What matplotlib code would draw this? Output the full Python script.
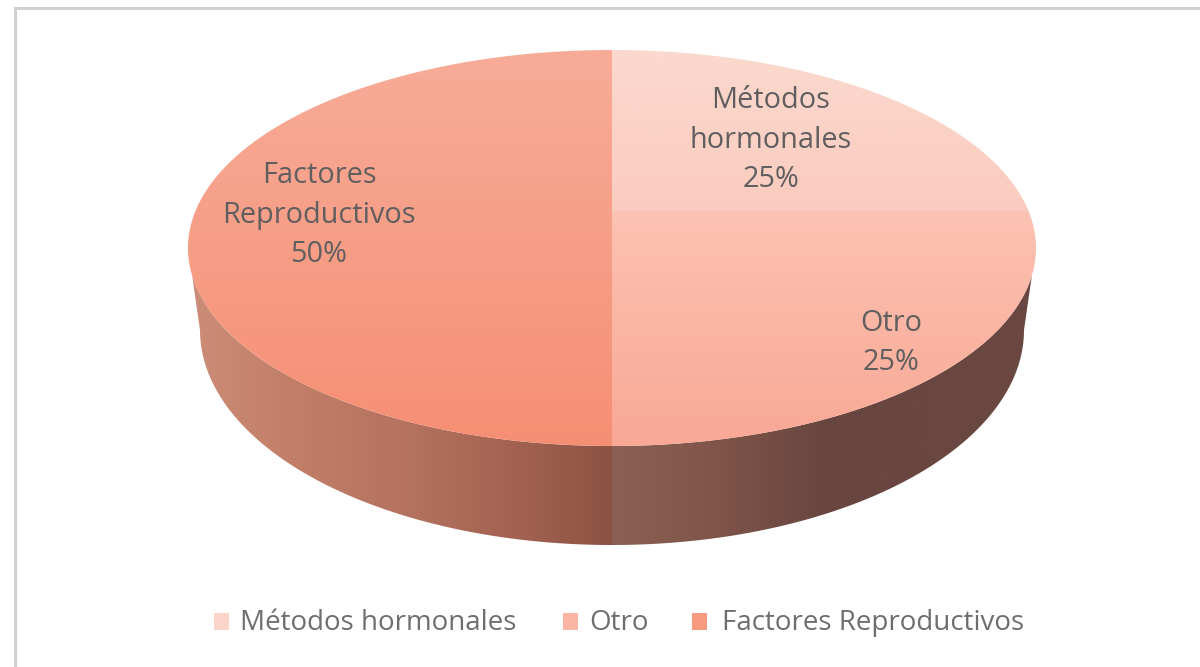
import numpy as np
import matplotlib
matplotlib.use("Agg")
import matplotlib.pyplot as plt
from matplotlib.colors import LinearSegmentedColormap
from matplotlib.patches import Polygon, Rectangle

categories = ["Métodos hormonales", "Otro", "Factores Reproductivos"]
values = [25, 25, 50]
legend_colors = ["#fcd5ca", "#fab5a4", "#f69a80"]

# vertical gradients of the top faces
top_grads = [("#fbd9ce", "#fbcbbf"), ("#fcc2b3", "#f9a895"), ("#f8ac98", "#f58f74")]
label_pos = [(771, 140), (891, 343), (319, 215)]
legend_x = [214, 563, 692]
legend_text_x = [240, 589, 722]

CX, CY, RX, RY = 612, 248, 424, 198
HUB_Y = 211  # where the slices meet, perspective moves it up
BX, BY, BRX, BRY = 612, 330, 412, 215

plt.rcParams["font.family"] = ["Open Sans", "DejaVu Sans"]

fig = plt.figure(figsize=(12, 6.67), dpi=100)
ax = fig.add_axes([0, 0, 1, 1])
ax.set_xlim(0, 1200)
ax.set_ylim(667, 0)
ax.axis("off")

ax.plot([14.5, 14.5, 1200], [667, 7.5, 7.5], color="#d2d1ce", lw=2.2, solid_joinstyle="miter")


def rim_point(frac):
    # frac of the pie clockwise from 12 o'clock, through the perspective map
    t = 2 * np.pi * np.asarray(frac)
    u, v = np.sin(t), np.cos(t)
    c = (CY - HUB_Y) / RY
    w = 1 + c * v
    x = CX + RX * np.sqrt(1 - c ** 2) * u / w
    y = CY - (RY * v + (CY - HUB_Y)) / w
    return x, y


def gradient(ax, poly, colors, horizontal=False, extent=(0, 1200, 667, 0)):
    cmap = LinearSegmentedColormap.from_list("g", colors)
    vals = np.linspace(0, 1, 256)
    arr = vals[None, :] if horizontal else vals[:, None]
    im = ax.imshow(arr, cmap=cmap, extent=extent, aspect="auto", zorder=2, interpolation="bilinear")
    patch = Polygon(poly, closed=True, transform=ax.transData, fc="none", ec="none")
    ax.add_patch(patch)
    im.set_clip_path(patch)


# side wall, left half then right half
tilt = np.radians(8)
wall_t = np.linspace(tilt, np.pi - tilt, 300)
top_x = CX + RX * np.cos(wall_t)
top_y = CY + RY * np.sin(wall_t)
bot_t = np.linspace(0, np.pi, 300)
bot_x = BX + BRX * np.cos(bot_t)
bot_y = BY + BRY * np.sin(bot_t)
wall = np.vstack([np.c_[top_x, top_y], np.c_[bot_x, bot_y][::-1]])

left = wall.copy()
left[:, 0] = np.minimum(left[:, 0], 612)
right = wall.copy()
right[:, 0] = np.maximum(right[:, 0], 612)
gradient(ax, left, ["#cc8d78", "#c27e67", "#b57360", "#a56453", "#8c5243"],
         horizontal=True, extent=(188, 612, 667, 0))
gradient(ax, right, ["#8b6156", "#7f5449", "#68463f", "#6a4640", "#6b4842"],
         horizontal=True, extent=(612, 1036, 667, 0))

# top faces, one per category, angles come from the values
fracs = np.cumsum([0] + values) / sum(values)
for i, name in enumerate(categories):
    f = np.linspace(fracs[i], fracs[i + 1], 200)
    x, y = rim_point(f)
    poly = np.vstack([[CX, HUB_Y], np.c_[x, y]])
    y0, y1 = min(y.min(), HUB_Y), y.max()
    gradient(ax, poly, top_grads[i], extent=(0, 1200, y1, y0))

ax.set_xlim(0, 1200)
ax.set_ylim(667, 0)

for name, val, (lx, ly) in zip(categories, values, label_pos):
    txt = name.replace(" ", "\n") + "\n" + str(val) + "%"
    ax.text(lx, ly, txt, ha="center", va="center", ma="center", fontsize=20.8,
            color="#5f5f5f", linespacing=1.49, zorder=5)

for name, col, lx, tx in zip(categories, legend_colors, legend_x, legend_text_x):
    ax.add_patch(Rectangle((lx, 613), 15, 17, fc=col, ec="none", zorder=5))
    ax.text(tx, 623, name, ha="left", va="center", fontsize=20, color="#6e6e6e", zorder=5)

fig.savefig("out.png", dpi=100)
